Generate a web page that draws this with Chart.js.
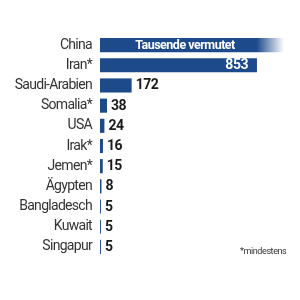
<!DOCTYPE html>
<html>
<head>
<meta charset="utf-8">
<script src="https://cdn.jsdelivr.net/npm/chart.js@4/dist/chart.umd.min.js"></script>
<style>
  html, body { margin: 0; padding: 0; background: #fff; }
  #wrap { position: relative; width: 300px; height: 300px; }
  #note { position: absolute; left: 240px; top: 246px; font: 9px Roboto, sans-serif; letter-spacing: -0.4px; color: #333; }
</style>
</head>
<body>
<div id="wrap">
  <canvas id="myChart" width="300" height="300"></canvas>
  <div id="note">*mindestens</div>
</div>
<script>
(() => {
  'use strict'

  const countries = ['China', 'Iran*', 'Saudi-Arabien', 'Somalia*', 'USA', 'Irak*', 'Jemen*', 'Ägypten', 'Bangladesch', 'Kuwait', 'Singapur'];
  const executions = [1000, 853, 172, 38, 24, 16, 15, 8, 5, 5, 5];
  const valueLabels = ['Tausende vermutet', '853', '172', '38', '24', '16', '15', '8', '5', '5', '5'];
  const xMax = 1000;

  const barBlue = '#1c4a8b';
  const labelFont = 'Roboto, sans-serif';

  // China bar fades out at its end
  function barColor(context) {
    const chart = context.chart;
    const area = chart.chartArea;
    if (!area || context.dataIndex !== 0) return barBlue;
    const x = chart.scales.x;
    const g = chart.ctx.createLinearGradient(x.getPixelForValue(0), 0, x.getPixelForValue(xMax), 0);
    g.addColorStop(0, barBlue);
    g.addColorStop(0.85, barBlue);
    g.addColorStop(1, 'rgba(28,74,139,0)');
    return g;
  }

  // narrow the text a bit, the original uses a condensed face
  const condensePlugin = {
    id: 'condense',
    beforeDraw(chart) {
      chart.ctx.letterSpacing = '-0.7px';
    }
  };

  // value labels next to / inside the bars
  const valuePlugin = {
    id: 'valueLabels',
    afterDatasetsDraw(chart) {
      const ctx = chart.ctx;
      const meta = chart.getDatasetMeta(0);
      ctx.save();
      ctx.letterSpacing = '-0.5px';
      ctx.textBaseline = 'middle';
      meta.data.forEach((bar, i) => {
        const label = valueLabels[i];
        ctx.font = `bold 14px ${labelFont}`;
        if (i === 0) {
          ctx.font = `bold 12.5px ${labelFont}`;
          ctx.fillStyle = '#fff';
          ctx.textAlign = 'center';
          ctx.fillText(label, 185, bar.y + 0.5);
        } else if (i === 1) {
          ctx.fillStyle = '#fff';
          ctx.textAlign = 'right';
          ctx.fillText(label, bar.x - 9, bar.y + 0.5);
        } else {
          ctx.fillStyle = '#1a1a1a';
          ctx.textAlign = 'left';
          ctx.fillText(label, bar.x + 4, bar.y + 0.5);
        }
      });
      ctx.restore();
    }
  };

  const ctx = document.getElementById('myChart');
  // eslint-disable-next-line no-unused-vars
  const myChart = new Chart(ctx, {
    type: 'bar',
    data: {
      labels: countries,
      datasets: [{
        data: executions,
        backgroundColor: barColor,
        borderWidth: 0,
        barPercentage: 0.7,
        categoryPercentage: 1
      }]
    },
    options: {
      indexAxis: 'y',
      responsive: false,
      animation: false,
      layout: { padding: { top: 35, bottom: 43, left: 0, right: 16 } },
      plugins: {
        legend: { display: false },
        tooltip: { enabled: false }
      },
      scales: {
        x: {
          display: false,
          min: 0,
          max: xMax
        },
        y: {
          grid: { display: false, drawTicks: false },
          border: { display: false },
          afterFit(scale) { scale.width = 100; },
          ticks: {
            padding: 8,
            color: '#333',
            font: { family: labelFont, size: 14 }
          }
        }
      }
    },
    plugins: [condensePlugin, valuePlugin]
  });
})();
</script>
</body>
</html>
